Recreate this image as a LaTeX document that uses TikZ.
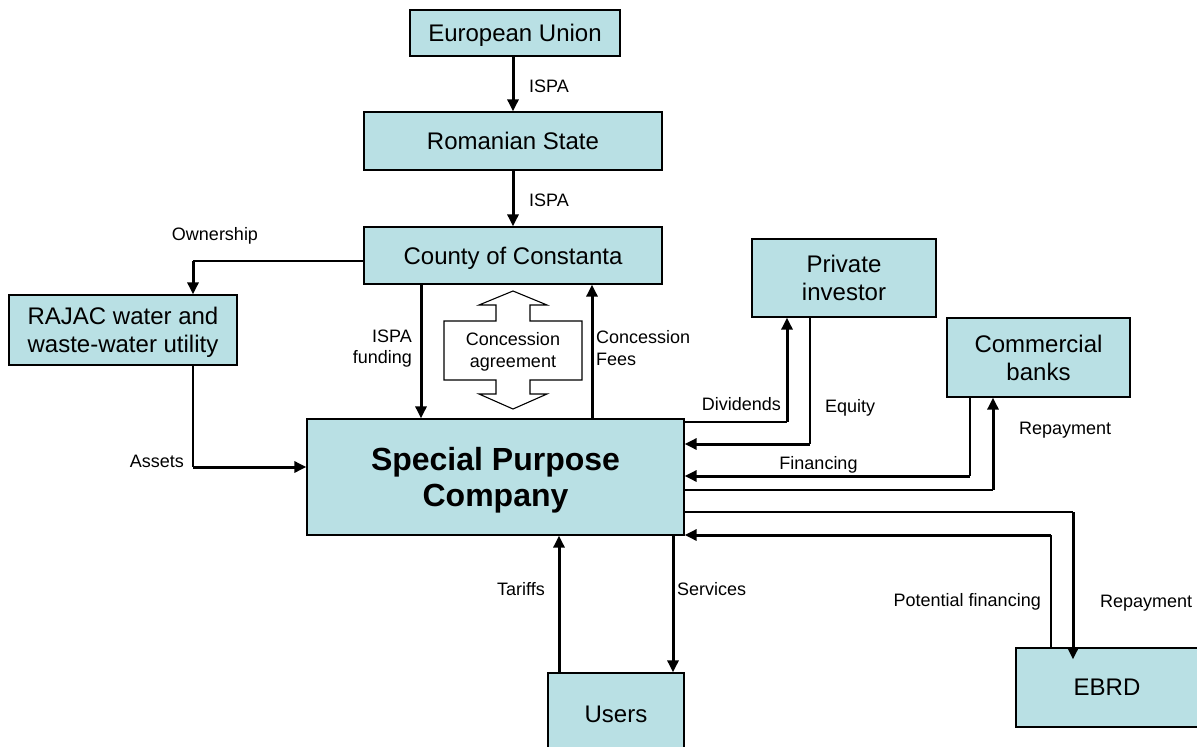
\documentclass[tikz,border=0pt]{standalone}
\usepackage{fontspec}
\setmainfont{Liberation Sans}
\usetikzlibrary{arrows.meta,calc}
\definecolor{boxfill}{RGB}{185,224,228}
\begin{document}
\begin{tikzpicture}[x=1pt,y=-1pt,
  box/.style={draw=black,line width=1.3pt,fill=boxfill,inner sep=0pt,align=center,text depth=0pt,font=\fontsize{24}{27.6}\selectfont},
  lbl/.style={inner sep=0pt,font=\fontsize{18}{21.5}\selectfont},
  thinln/.style={line width=1.3pt},
  thickln/.style={line width=3pt},
  arr/.style={-{Triangle[length=12pt,width=11pt]}},
]
\useasboundingbox (0,0) rectangle (1197,747);

% boxes
\node[box,minimum width=210pt,minimum height=46pt] (eu) at (515,33) {European Union};
\node[box,minimum width=298pt,minimum height=58pt] (rs) at (513,141) {Romanian State};
\node[box,minimum width=298pt,minimum height=57pt] (cc) at (513,255.5) {County of Constanta};
\node[box,minimum width=184pt,minimum height=78pt] (pi) at (844,278) {Private\\investor};
\node[box,minimum width=228pt,minimum height=70pt] (rajac) at (123,330) {RAJAC water and\\waste-water utility};
\node[box,minimum width=183pt,minimum height=79pt] (cb) at (1038.5,357.5) {Commercial\\banks};
\node[box,minimum width=377pt,minimum height=116pt,font=\fontsize{32}{36.3}\selectfont\bfseries] (spc) at (495.5,477) {Special Purpose\\Company};
\node[box,minimum width=136pt,minimum height=82pt] (users) at (616,714) {Users};
\node[box,minimum width=182pt,minimum height=79pt] (ebrd) at (1107,687.5) {EBRD};

% concession agreement double arrow
\draw[line width=1.1pt,fill=white]
  (513,291) -- (547,305) -- (530,305) -- (530,321) -- (582,321) -- (582,380)
  -- (530,380) -- (530,394) -- (547,394) -- (513,409) -- (479,394) -- (496,394)
  -- (496,380) -- (444,380) -- (444,321) -- (496,321) -- (496,305) -- (479,305) -- cycle;
\node[lbl,align=center] (conc) at (513,352) {Concession\\agreement};

% vertical chain
\draw[thickln,arr] (eu.south -| rs.north) -- (rs.north);
\draw[thickln,arr] (rs.south) -- (cc.north);
\draw[thickln,arr] (cc.south -| 421,0) -- (spc.north -| 421,0);
\draw[thickln,arr] (spc.north -| 592,0) -- (cc.south -| 592,0);

% ownership / assets
\coordinate (own) at (193,261);
\draw[thinln] (cc.west |- own) -- (own);
\draw[thickln,arr] (own) -- (rajac.north -| own);
\coordinate (ast) at (193,467);
\draw[thinln] (rajac.south -| ast) -- (ast);
\draw[thickln,arr] (ast) -- (spc.west |- ast);

% private investor
\coordinate (dv) at (787,422);
\draw[thinln] (spc.east |- dv) -- (dv);
\draw[thickln,arr] (dv) -- (pi.south -| dv);
\coordinate (eq) at (810,444);
\draw[thinln] (pi.south -| eq) -- (eq);
\draw[thickln,arr] (eq) -- (spc.east |- eq);

% commercial banks
\coordinate (fin) at (970,476);
\draw[thinln] (cb.south -| fin) -- (fin);
\draw[thickln,arr] (fin) -- (spc.east |- fin);
\coordinate (rp) at (993,490);
\draw[thinln] (spc.east |- rp) -- (rp);
\draw[thickln,arr] (rp) -- (cb.south -| rp);

% EBRD
\coordinate (rpe) at (1073,512);
\draw[thinln] (spc.east |- rpe) -- (rpe);
\draw[thickln,arr] (rpe) -- ($(ebrd.north -| rpe)+(0,12)$);
\coordinate (pf) at (1051,535);
\draw[thinln] (ebrd.north -| pf) -- (pf);
\draw[thickln,arr] (pf) -- (spc.east |- pf);

% users
\draw[thickln,arr] (users.north -| 559,0) -- (spc.south -| 559,0);
\draw[thickln,arr] (spc.south -| 673,0) -- (users.north -| 673,0);

% labels
\node[lbl,anchor=base west] (l1) at (529,92.5) {ISPA};
\node[lbl,anchor=base west] (l2) at (529,206.5) {ISPA};
\node[lbl,anchor=base] (lown) at (215,240.5) {Ownership};
\node[lbl,anchor=east,align=right] (lispaf) at (412,348.5) {ISPA\\funding};
\node[lbl,anchor=west,align=left] (lfees) at (596,348) {Concession\\Fees};
\node[lbl,anchor=base east] (ldiv) at (781,410.5) {Dividends};
\node[lbl,anchor=base west] (leq) at (825,412.5) {Equity};
\node[lbl,anchor=base] (lfin) at (818.5,469.5) {Financing};
\node[lbl,anchor=base west] (lrp1) at (1019,434.5) {Repayment};
\node[lbl,anchor=base east] (lass) at (184,467.5) {Assets};
\node[lbl,anchor=base east] (ltar) at (545,595.5) {Tariffs};
\node[lbl,anchor=base west] (lser) at (677,595.5) {Services};
\node[lbl,anchor=base east] (lpf) at (1041,606.5) {Potential financing};
\node[lbl,anchor=base west] (lrp2) at (1100,607) {Repayment};
\end{tikzpicture}
\end{document}
